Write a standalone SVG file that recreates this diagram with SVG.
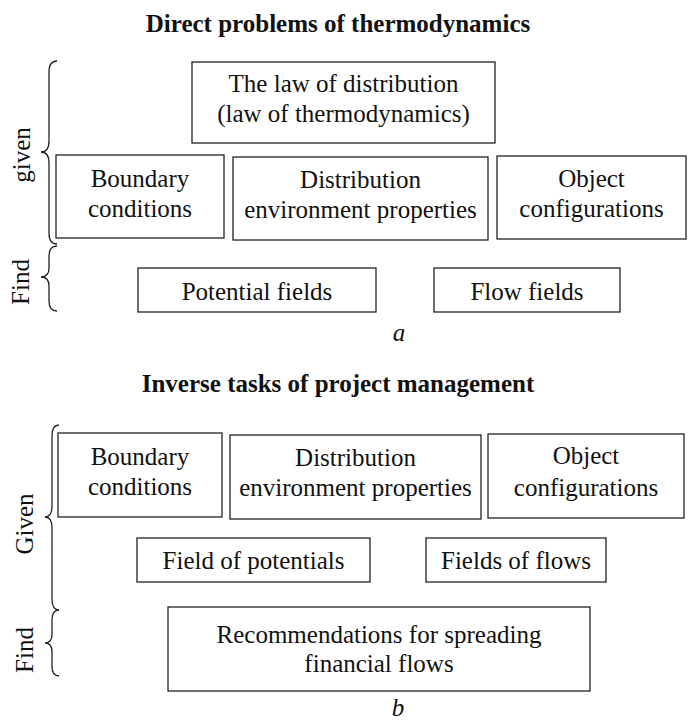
<svg xmlns="http://www.w3.org/2000/svg" width="688" height="722" viewBox="0 0 688 722">
<style>
  text { font-family: "Liberation Serif", "Times New Roman", serif; fill: #111; }
  .t { font-size: 25px; text-anchor: middle; }
  .h { font-size: 25px; font-weight: bold; text-anchor: middle; }
  .i { font-size: 25px; font-style: italic; text-anchor: middle; }
  .side { font-size: 25px; text-anchor: middle; }
  rect { fill: #fff; stroke: #222; stroke-width: 1.3; }
  .brace { fill: none; stroke: #222; stroke-width: 1.3; }
</style>
<rect x="0" y="0" width="688" height="722" style="fill:#fff;stroke:none"/>

<text class="h" x="338" y="32">Direct problems of thermodynamics</text>

<g id="brace-a">
  <path class="brace" d="M57,61 Q49,61 49,72 L49,141 Q49,152 41,152 Q49,152 49,163 L49,233 Q49,244 57,244"/>
  <path class="brace" d="M57,246 Q49,246 49,256 L49,268 Q49,277 41,277 Q49,277 49,286 L49,301 Q49,311 57,311"/>
  <text class="side" transform="translate(30,155) rotate(-90)">given</text>
  <text class="side" transform="translate(29,282) rotate(-90)">Find</text>
</g>

<g id="node-law">
  <rect x="192" y="62" width="303" height="81"/>
  <text class="t" x="343.5" y="92">The law of distribution</text>
  <text class="t" x="343.5" y="122">(law of thermodynamics)</text>
</g>
<g id="node-a-boundary">
  <rect x="56" y="155" width="168" height="83"/>
  <text class="t" x="140" y="187">Boundary</text>
  <text class="t" x="140" y="217">conditions</text>
</g>
<g id="node-a-distribution">
  <rect x="233" y="157" width="255" height="83"/>
  <text class="t" x="360.5" y="188">Distribution</text>
  <text class="t" x="360.5" y="218">environment properties</text>
</g>
<g id="node-a-object">
  <rect x="497" y="156" width="189" height="83"/>
  <text class="t" x="591.5" y="187">Object</text>
  <text class="t" x="591.5" y="217">configurations</text>
</g>
<g id="node-a-potential">
  <rect x="138" y="268" width="238" height="44"/>
  <text class="t" x="257" y="300">Potential fields</text>
</g>
<g id="node-a-flow">
  <rect x="434" y="268" width="186" height="44"/>
  <text class="t" x="527" y="300">Flow fields</text>
</g>
<text class="i" x="399" y="341">a</text>

<text class="h" x="338" y="392">Inverse tasks of project management</text>

<g id="brace-b">
  <path class="brace" d="M59,425 Q52,425 52,436 L52,506 Q52,517 45,517 Q52,517 52,528 L52,599 Q52,610 59,610"/>
  <path class="brace" d="M59,610 Q52,610 52,620 L52,634 Q52,643 45,643 Q52,643 52,652 L52,666 Q52,676 59,676"/>
  <text class="side" transform="translate(33,524) rotate(-90)">Given</text>
  <text class="side" transform="translate(33,650) rotate(-90)">Find</text>
</g>

<g id="node-b-boundary">
  <rect x="58" y="433" width="164" height="84"/>
  <text class="t" x="140" y="465">Boundary</text>
  <text class="t" x="140" y="495">conditions</text>
</g>
<g id="node-b-distribution">
  <rect x="230" y="435" width="251" height="84"/>
  <text class="t" x="355.5" y="466">Distribution</text>
  <text class="t" x="355.5" y="496">environment properties</text>
</g>
<g id="node-b-object">
  <rect x="488" y="434" width="196" height="84"/>
  <text class="t" x="586" y="464">Object</text>
  <text class="t" x="586" y="496">configurations</text>
</g>
<g id="node-b-potentials">
  <rect x="137" y="538" width="233" height="44"/>
  <text class="t" x="253.5" y="569">Field of potentials</text>
</g>
<g id="node-b-flows">
  <rect x="426" y="538" width="180" height="44"/>
  <text class="t" x="516" y="569">Fields of flows</text>
</g>
<g id="node-b-recommend">
  <rect x="168" y="607" width="422" height="84"/>
  <text class="t" x="379" y="643">Recommendations for spreading</text>
  <text class="t" x="379" y="672">financial flows</text>
</g>
<text class="i" x="398" y="716">b</text>

<g id="connectors"></g>
</svg>
